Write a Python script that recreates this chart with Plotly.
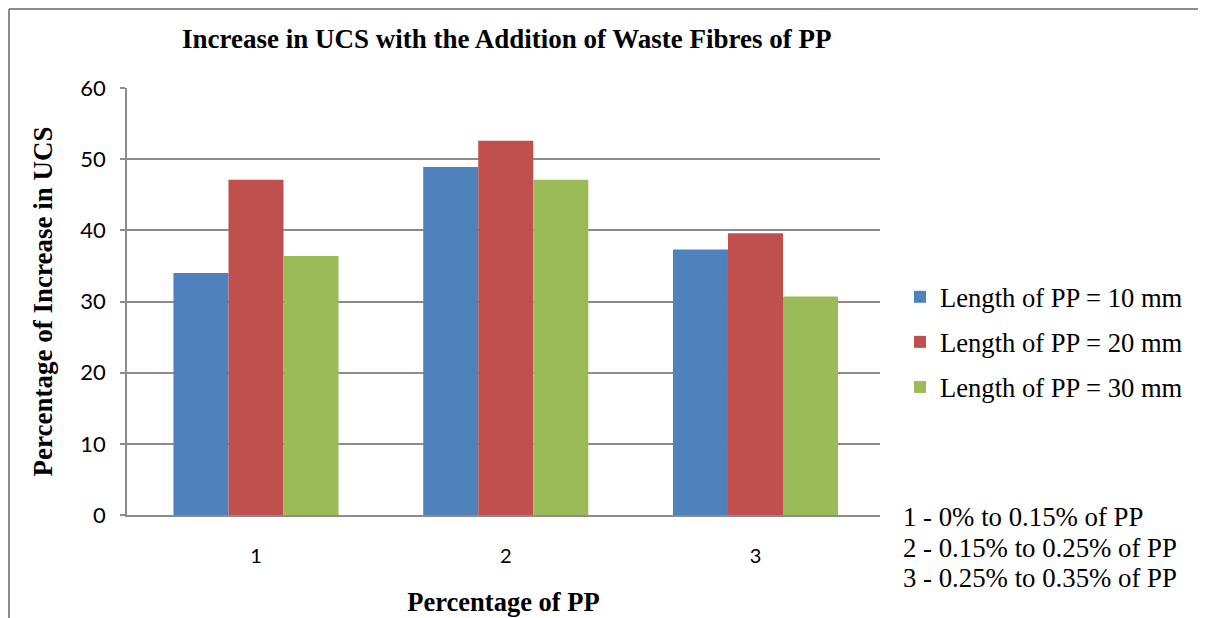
import plotly.graph_objects as go

categories = ["1", "2", "3"]
series_names = ["Length of PP = 10 mm", "Length of PP = 20 mm", "Length of PP = 30 mm"]
len_10mm = [34.0, 48.9, 37.3]
len_20mm = [47.1, 52.6, 39.6]
len_30mm = [36.4, 47.1, 30.7]
y_ticks = [0, 10, 20, 30, 40, 50, 60]
notes = ["1 - 0% to 0.15% of PP", "2 - 0.15% to 0.25% of PP", "3 - 0.25% to 0.35% of PP"]

colors = ["#4F81BD", "#C0504D", "#9BBB59"]
serif = "Liberation Serif, Times New Roman, serif"
sans = "Lato, Calibri, Liberation Sans, sans-serif"

# page has an 8px body margin; work in page coordinates and convert
OFF = 8
W, H = 1206 - OFF, 618 - OFF
L, R, T, B = 127 - OFF, 1206 - 880, 88 - OFF, 618 - 515
pw, ph = W - L - R, H - T - B


def px_x(x):  # page px -> paper
    return (x - OFF - L) / pw


def px_y(y):  # page px -> paper
    return (H - B - (y - OFF)) / ph


fig = go.Figure()
for i, (name, vals) in enumerate(zip(series_names, [len_10mm, len_20mm, len_30mm])):
    fig.add_trace(go.Bar(
        x=categories, y=vals, name=name, legendgroup=f"g{i}",
        marker=dict(color=colors[i], line=dict(width=0)),
    ))

shapes = [
    dict(type="line", xref="paper", yref="paper", x0=px_x(OFF + 1), x1=px_x(OFF + 1), y0=px_y(OFF + 1), y1=px_y(640),
         line=dict(color="#8c8c8c", width=2)),
    dict(type="line", xref="paper", yref="paper", x0=px_x(OFF + 1), x1=px_x(1220), y0=px_y(OFF + 1), y1=px_y(OFF + 1),
         line=dict(color="#8c8c8c", width=2)),
]

annotations = [
    dict(text="<b>Increase in UCS with the Addition of Waste Fibres of PP</b>", xref="paper", yref="paper",
         x=px_x(507), y=px_y(39), showarrow=False, xanchor="center", yanchor="middle",
         font=dict(family=serif, size=27, color="black")),
]
note_y = [517, 548, 578]
for t, yy in zip(notes, note_y):
    annotations.append(dict(text=t, xref="paper", yref="paper", x=px_x(901), y=px_y(yy), showarrow=False,
                            xanchor="left", yanchor="middle", font=dict(family=serif, size=26.8, color="black")))

fig.update_layout(
    width=W, height=H,
    margin=dict(l=L, r=R, t=T, b=B, pad=0, autoexpand=False),
    paper_bgcolor="white", plot_bgcolor="white",
    barmode="group", bargap=0.339, bargroupgap=0,
    showlegend=True,
    legend=dict(x=px_x(900), y=px_y(342), xanchor="left", yanchor="middle",
                font=dict(family=serif, size=26.6, color="black"),
                tracegroupgap=7.5, traceorder="grouped", bgcolor="rgba(0,0,0,0)"),
    shapes=shapes,
    annotations=annotations,
    xaxis=dict(
        type="category", range=[-0.5165, 2.4985], automargin=False, showgrid=False, showline=True,
        linecolor="#8c8c8c", linewidth=1.5, ticks="", tickfont=dict(family=sans, size=20, color="black"),
        ticklabelstandoff=22,
        title=dict(text="<b>Percentage of PP</b>", font=dict(family=serif, size=26.5, color="black"), standoff=27),
    ),
    yaxis=dict(
        range=[0, 60], tickvals=y_ticks, automargin=False, showgrid=True, gridcolor="#8c8c8c", gridwidth=1.5,
        showline=True, linecolor="#8c8c8c", linewidth=1.5, zeroline=False,
        ticks="outside", ticklen=5, tickcolor="#8c8c8c", tickwidth=1.5,
        tickfont=dict(family=sans, size=22, color="black"), ticklabelstandoff=10,
        title=dict(text="<b>Percentage of Increase in UCS</b>", font=dict(family=serif, size=27, color="black"),
                   standoff=20),
    ),
)

fig.write_html("out.html")
